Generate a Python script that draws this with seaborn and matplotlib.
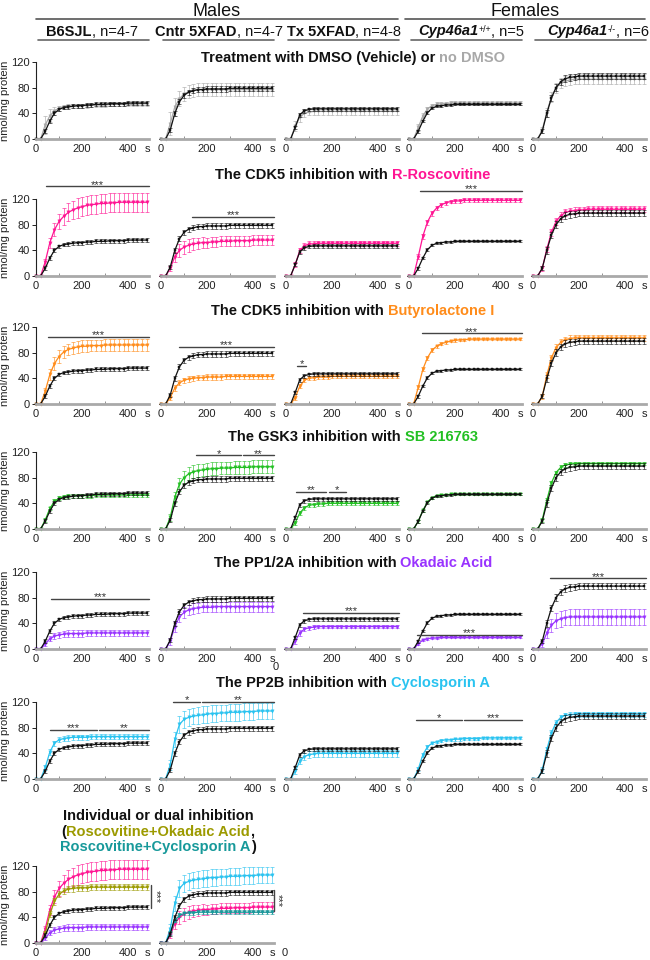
#! /usr/bin/env python3

import numpy as np
import seaborn as sns, matplotlib.pyplot as plt

sns.set_theme(style="white")
plt.rcParams["font.family"] = ["Liberation Sans", "DejaVu Sans"]

t = np.arange(0, 481, 20)  # s

# DMSO vehicle (black), one per column
b6_dmso     = [0,0,12,28,40,46,49,50,51,52,52,53,53,54,54,54,55,55,55,55,56,56,56,56,56]
b6_dmso_e   = [0,0,3,3,3,3,3,3,3,3,3,3,3,3,3,3,3,3,3,3,3,3,3,3,3]
cntr_dmso   = [0,0,14,40,58,68,73,75,77,77,78,78,78,78,78,79,79,79,79,79,79,79,79,79,79]
cntr_dmso_e = [0,0,3,4,4,4,4,4,4,4,4,4,4,4,4,4,4,4,4,4,4,4,4,4,4]
tx_dmso     = [0,0,18,38,44,46,47,47,47,47,47,47,47,47,47,47,47,47,47,47,47,47,47,47,47]
tx_dmso_e   = [0,0,3,3,3,3,3,3,3,3,3,3,3,3,3,3,3,3,3,3,3,3,3,3,3]
wt_dmso     = [0,0,12,28,41,48,51,52,53,53,54,54,54,54,54,54,54,54,54,54,54,54,54,54,54]
wt_dmso_e   = [0,0,2,2,2,2,1.5,1.5,1.5,1.5,1.5,1.5,1.5,1.5,1.5,1.5,1.5,1.5,1.5,1.5,1.5,1.5,1.5,1.5,1.5]
ko_dmso     = [0,0,12,40,64,80,89,94,96,97,98,98,98,98,98,98,98,98,98,98,98,98,98,98,98]
ko_dmso_e   = [0,0,3,5,5,5,5,5,5,5,5,5,5,5,5,5,5,5,5,5,5,5,5,5,5]

# no DMSO (grey)
b6_none     = [0,0,22,36,44,48,50,51,51,52,52,52,53,53,53,53,54,54,54,54,54,54,55,55,55]
b6_none_e   = [0,0,14,10,6,4,3,3,3,3,3,3,3,3,3,3,3,3,3,3,3,3,3,3,3]
cntr_none   = [0,0,24,50,63,70,74,76,77,77,77,77,77,77,77,77,77,77,77,77,77,77,77,77,77]
cntr_none_e = [0,0,18,14,12,11,10,10,10,10,10,10,10,10,10,10,10,10,10,10,10,10,10,10,10]
tx_none     = [0,0,20,34,40,42,43,43,43,43,43,43,43,43,43,43,43,43,43,43,43,43,43,43,43]
tx_none_e   = [0,0,8,7,6,5,5,5,5,5,5,5,5,5,5,5,5,5,5,5,5,5,5,5,5]
wt_none     = [0,0,18,36,47,52,54,55,55,56,56,56,56,56,56,56,56,56,56,56,56,56,56,56,56]
wt_none_e   = [0,0,5,4,3,3,3,3,3,3,3,3,3,3,3,3,3,3,3,3,3,3,3,3,3]
ko_none     = [0,0,14,42,66,80,87,90,92,93,93,93,93,93,93,93,93,93,93,93,93,93,93,93,93]
ko_none_e   = [0,0,5,7,8,8,8,8,8,8,8,8,8,8,8,8,8,8,8,8,8,8,8,8,8]

# R-Roscovitine
b6_rosc     = [0,0,22,52,72,85,93,99,103,106,108,110,111,112,113,113,114,114,115,115,115,115,115,115,115]
b6_rosc_e   = [0,0,5,8,10,12,13,14,14,15,15,15,15,15,15,15,15,15,15,15,15,15,15,15,15]
cntr_rosc   = [0,0,12,30,40,45,48,50,51,52,52,53,53,54,54,54,55,55,55,55,56,56,56,56,56]
cntr_rosc_e = [0,0,4,8,10,10,10,9,9,9,8,8,8,8,8,8,8,8,8,8,8,8,8,8,8]
tx_rosc     = [0,0,18,40,47,50,50,51,51,51,51,51,51,51,51,51,51,51,51,51,51,51,51,51,51]
tx_rosc_e   = [0,0,4,4,4,4,4,4,4,4,4,4,4,4,4,4,4,4,4,4,4,4,4,4,4]
wt_rosc     = [0,0,30,62,84,98,106,111,114,116,117,117,118,118,118,118,118,118,118,118,118,118,118,118,118]
wt_rosc_e   = [0,0,4,4,4,4,3,3,3,3,3,3,3,3,3,3,3,3,3,3,3,3,3,3,3]
ko_rosc     = [0,0,12,42,68,85,94,99,101,102,103,103,104,104,104,104,104,104,104,104,104,104,104,104,104]
ko_rosc_e   = [0,0,4,5,5,5,5,5,5,5,5,5,5,5,5,5,5,5,5,5,5,5,5,5,5]

# Butyrolactone I
b6_buty     = [0,0,20,46,63,74,81,85,87,89,90,90,91,91,91,92,92,92,92,92,92,92,92,92,92]
b6_buty_e   = [0,0,5,8,10,10,10,9,9,9,9,9,9,9,9,9,9,9,9,9,9,9,9,9,9]
cntr_buty   = [0,0,10,25,33,37,39,40,41,41,42,42,42,42,43,43,43,43,43,43,43,43,43,43,43]
cntr_buty_e = [0,0,3,4,4,4,4,4,4,4,4,4,4,4,4,4,4,4,4,4,4,4,4,4,4]
tx_buty     = [0,0,10,28,37,40,41,42,42,42,43,43,43,43,43,43,43,43,43,43,43,43,43,43,43]
tx_buty_e   = [0,0,3,3,3,3,3,3,3,3,3,3,3,3,3,3,3,3,3,3,3,3,3,3,3]
wt_buty     = [0,0,26,54,72,84,90,94,96,98,99,100,100,101,101,101,101,101,101,101,101,101,101,101,101]
wt_buty_e   = [0,0,3,3,3,3,2,2,2,2,2,2,2,2,2,2,2,2,2,2,2,2,2,2,2]
ko_buty     = [0,0,12,45,72,88,96,100,102,103,103,103,103,103,103,103,103,103,103,103,103,103,103,103,103]
ko_buty_e   = [0,0,4,5,5,5,5,5,5,5,5,5,5,5,5,5,5,5,5,5,5,5,5,5,5]

# SB 216763
b6_sb       = [0,0,14,32,43,48,50,51,51,52,52,52,52,53,53,53,53,53,53,53,53,53,53,53,53]
b6_sb_e     = [0,0,3,3,3,3,3,3,3,3,3,3,3,3,3,3,3,3,3,3,3,3,3,3,3]
cntr_sb     = [0,0,18,50,70,80,86,89,91,92,93,94,94,95,95,95,96,96,96,96,97,97,97,97,97]
cntr_sb_e   = [0,0,5,8,10,10,10,10,10,10,10,10,10,10,10,10,10,10,10,10,10,10,10,10,10]
tx_sb       = [0,0,10,25,33,37,38,39,39,40,40,40,40,40,40,40,40,40,40,40,40,40,40,40,40]
tx_sb_e     = [0,0,3,3,3,3,3,3,3,3,3,3,3,3,3,3,3,3,3,3,3,3,3,3,3]
wt_sb       = [0,0,12,29,42,49,52,53,53,54,54,54,54,54,54,54,54,54,54,54,54,54,54,54,54]
wt_sb_e     = [0,0,2,2,2,1.5,1.5,1.5,1.5,1.5,1.5,1.5,1.5,1.5,1.5,1.5,1.5,1.5,1.5,1.5,1.5,1.5,1.5,1.5,1.5]
ko_sb       = [0,0,14,45,72,88,96,100,101,102,102,102,102,102,102,102,102,102,102,102,102,102,102,102,102]
ko_sb_e     = [0,0,3,3,3,3,3,3,3,3,3,3,3,3,3,3,3,3,3,3,3,3,3,3,3]

# Okadaic Acid
b6_oa       = [0,0,8,16,20,22,23,24,24,24,24,25,25,25,25,25,25,25,25,25,25,25,25,25,25]
b6_oa_e     = [0,0,3,4,5,5,5,5,5,5,5,5,5,5,5,5,5,5,5,5,5,5,5,5,5]
cntr_oa     = [0,0,12,35,50,57,61,63,64,65,65,65,66,66,66,66,66,66,66,66,66,66,66,66,66]
cntr_oa_e   = [0,0,5,8,8,8,8,8,8,8,8,8,8,8,8,8,8,8,8,8,8,8,8,8,8]
tx_oa       = [0,0,12,25,31,33,34,35,35,35,35,35,35,35,35,35,35,35,35,35,35,35,35,35,35]
tx_oa_e     = [0,0,4,4,3,3,3,3,3,3,3,3,3,3,3,3,3,3,3,3,3,3,3,3,3]
wt_oa       = [0,0,8,14,16,17,17,18,18,18,18,18,18,18,18,18,18,18,18,18,18,18,18,18,18]
wt_oa_e     = [0,0,1.5,1.5,1.5,1.5,1.5,1.5,1.5,1.5,1.5,1.5,1.5,1.5,1.5,1.5,1.5,1.5,1.5,1.5,1.5,1.5,1.5,1.5,1.5]
ko_oa       = [0,0,8,25,37,44,47,49,50,50,50,50,50,50,50,50,50,50,50,50,50,50,50,50,50]
ko_oa_e     = [0,0,5,8,10,12,12,12,12,12,12,12,12,12,12,12,12,12,12,12,12,12,12,12,12]

# Cyclosporin A
b6_csa      = [0,0,18,42,56,61,63,64,65,65,65,65,66,66,66,66,66,66,66,66,66,66,66,66,66]
b6_csa_e    = [0,0,4,4,4,4,4,4,4,4,4,4,4,4,4,4,4,4,4,4,4,4,4,4,4]
cntr_csa    = [0,0,22,62,85,93,96,98,99,100,101,102,102,103,103,104,104,104,105,105,105,106,106,106,106]
cntr_csa_e  = [0,0,8,12,13,13,13,13,13,13,13,13,13,13,13,13,13,13,13,13,13,13,13,13,13]
tx_csa      = [0,0,12,28,35,38,39,40,40,40,40,40,40,40,40,40,40,40,40,40,40,40,40,40,40]
tx_csa_e    = [0,0,4,5,5,5,5,5,5,5,5,5,5,5,5,5,5,5,5,5,5,5,5,5,5]
wt_csa      = [0,0,15,38,50,56,58,60,61,61,62,62,63,63,63,63,64,64,64,64,64,64,64,64,64]
wt_csa_e    = [0,0,3,3,3,2,2,2,2,2,2,2,2,2,2,2,2,2,2,2,2,2,2,2,2]
ko_csa      = [0,0,14,46,72,88,96,99,100,101,101,101,101,101,101,101,101,101,101,101,101,101,101,101,101]
ko_csa_e    = [0,0,4,4,4,4,4,4,4,4,4,4,4,4,4,4,4,4,4,4,4,4,4,4,4]

# dual inhibition
b6_rosc_oa      = [0,0,15,45,65,76,81,84,85,86,86,86,87,87,87,87,87,87,87,87,87,87,87,87,87]
b6_rosc_oa_e    = [0,0,4,5,5,5,5,5,5,5,5,5,5,5,5,5,5,5,5,5,5,5,5,5,5]
cntr_rosc_csa   = [0,0,15,35,43,46,47,47,48,48,48,48,48,48,48,48,48,48,48,48,48,48,48,48,48]
cntr_rosc_csa_e = [0,0,3,3,3,3,3,3,3,3,3,3,3,3,3,3,3,3,3,3,3,3,3,3,3]

# significance bars: row, column, from s, to s, level, stars
sig_bars = [
    (1, 0, 45, 490, 140, "***"), (1, 1, 135, 490, 92, "***"), (1, 3, 48, 490, 133, "***"),
    (2, 0, 52, 490, 105, "***"), (2, 1, 78, 490, 89, "***"), (2, 2, 48, 87, 60, "*"),
    (2, 3, 55, 490, 110, "***"),
    (3, 1, 152, 348, 115, "*"), (3, 1, 354, 490, 115, "**"),
    (3, 2, 45, 175, 58, "**"), (3, 2, 185, 260, 58, "*"),
    (4, 0, 64, 490, 78, "***"), (4, 2, 74, 490, 56, "***"), (4, 3, 35, 490, 22, "***"),
    (4, 4, 75, 490, 110, "***"),
    (5, 0, 61, 265, 77, "***"), (5, 0, 274, 490, 77, "**"),
    (5, 1, 52, 170, 120, "*"), (5, 1, 179, 490, 120, "**"),
    (5, 3, 30, 230, 92, "*"), (5, 3, 240, 490, 92, "***"),
]

BLACK, GREY = "#111111", "#a8a8a8"
PINK, ORANGE, GREEN = "#ff1493", "#ff8c1a", "#22c022"
PURPLE, CYAN = "#9933ff", "#29c3f0"
OLIVE, TEAL = "#9c9a00", "#17999a"

vehicle = [(b6_dmso, b6_dmso_e), (cntr_dmso, cntr_dmso_e), (tx_dmso, tx_dmso_e),
           (wt_dmso, wt_dmso_e), (ko_dmso, ko_dmso_e)]
treated = [
    (GREY, [(b6_none, b6_none_e), (cntr_none, cntr_none_e), (tx_none, tx_none_e),
            (wt_none, wt_none_e), (ko_none, ko_none_e)]),
    (PINK, [(b6_rosc, b6_rosc_e), (cntr_rosc, cntr_rosc_e), (tx_rosc, tx_rosc_e),
            (wt_rosc, wt_rosc_e), (ko_rosc, ko_rosc_e)]),
    (ORANGE, [(b6_buty, b6_buty_e), (cntr_buty, cntr_buty_e), (tx_buty, tx_buty_e),
              (wt_buty, wt_buty_e), (ko_buty, ko_buty_e)]),
    (GREEN, [(b6_sb, b6_sb_e), (cntr_sb, cntr_sb_e), (tx_sb, tx_sb_e),
             (wt_sb, wt_sb_e), (ko_sb, ko_sb_e)]),
    (PURPLE, [(b6_oa, b6_oa_e), (cntr_oa, cntr_oa_e), (tx_oa, tx_oa_e),
              (wt_oa, wt_oa_e), (ko_oa, ko_oa_e)]),
    (CYAN, [(b6_csa, b6_csa_e), (cntr_csa, cntr_csa_e), (tx_csa, tx_csa_e),
            (wt_csa, wt_csa_e), (ko_csa, ko_csa_e)]),
]

W, H = 650, 960
col_x0 = [36, 161, 286, 409, 533]
row_y0 = [139, 276, 404, 529, 649, 779, 943]
AX_W, AX_H = 113, 77

fig = plt.figure(figsize=(W / 100, H / 100), dpi=100)


def curve(ax, y, e, color, marker):
    ax.errorbar(t, y, yerr=e, fmt="none", ecolor=color, elinewidth=0.6,
                capsize=1.7, capthick=0.6, alpha=0.7)
    ms = 1.9 if marker == "s" else 2.4
    sns.lineplot(x=t, y=y, ax=ax, color=color, lw=0.9, marker=marker, ms=ms,
                 mec=color, mew=0.3, legend=False)


def panel(r, c, series, xlabels=("0", "200", "400", "s")):
    ax = fig.add_axes([col_x0[c] / W, 1 - row_y0[r] / H, AX_W / W, AX_H / H])
    for y, e, color, marker in series:
        curve(ax, y, e, color, marker)
    for a in list(ax.lines) + list(ax.collections):
        a.set_clip_on(False)
    ax.set_facecolor("none")
    ax.set_xlim(0, 490)
    ax.set_ylim(0, 120)
    sns.despine(ax=ax, left=(c != 0))
    ax.spines["bottom"].set_color("#a9a9a9")
    ax.spines["bottom"].set_linewidth(2)
    ax.set_xticks([0, 200, 400, 483], list(xlabels))
    ax.set_xticks([100, 200, 300, 400], minor=True)
    ax.tick_params(axis="x", which="major", length=0, pad=3.5, labelsize=8, labelcolor="#222")
    ax.tick_params(axis="x", which="minor", bottom=True, direction="in", length=2.5,
                   width=0.6, color="#808080")
    ax.set_xlabel("")
    if c == 0:
        ax.spines["left"].set_color("#222")
        ax.spines["left"].set_linewidth(0.8)
        ax.set_yticks([0, 40, 80, 120])
        ax.tick_params(axis="y", left=True, length=3, width=0.7, pad=1.5,
                       labelsize=8, color="#222", labelcolor="#222")
        ax.set_ylabel("nmol/mg protein", fontsize=8, labelpad=0.5, color="#222")
    else:
        ax.set_yticks([])
        ax.set_ylabel("")
    ax.grid(False)
    return ax


axes = {}
for r, (color, cols) in enumerate(treated):
    for c in range(5):
        labels = ("", "200", "400", "s") if (r == 4 and c == 2) else ("0", "200", "400", "s")
        y, e = cols[c]
        vy, ve = vehicle[c]
        axes[r, c] = panel(r, c, [(y, e, color, "v"), (vy, ve, BLACK, "s")], labels)

axes[6, 0] = panel(6, 0, [(b6_rosc, b6_rosc_e, PINK, "v"), (b6_rosc_oa, b6_rosc_oa_e, OLIVE, "v"),
                          (b6_oa, b6_oa_e, PURPLE, "v"), (b6_dmso, b6_dmso_e, BLACK, "s")])
axes[6, 1] = panel(6, 1, [(cntr_csa, cntr_csa_e, CYAN, "v"), (cntr_rosc, cntr_rosc_e, PINK, "v"),
                          (cntr_rosc_csa, cntr_rosc_csa_e, TEAL, "v"),
                          (cntr_dmso, cntr_dmso_e, BLACK, "s")])

for r, c, t0, t1, lvl, stars in sig_bars:
    ax = axes[r, c]
    ax.plot([t0, t1], [lvl, lvl], color="#444", lw=1, clip_on=False)
    ax.annotate(stars, ((t0 + t1) / 2, lvl), xytext=(0, -2.5), textcoords="offset points",
                ha="center", va="bottom", fontsize=8, color="#333", annotation_clip=False)

for c, (x, y0, y1, sx) in enumerate([(500, 55, 90, 517), (491, 50, 83, 508)]):
    ax = axes[6, c]
    ax.plot([x, x], [y0, y1], color="#444", lw=1, clip_on=False)
    ax.text(sx, (y0 + y1) / 2, "***", rotation=270, ha="center", va="center",
            fontsize=8, color="#333", clip_on=False)

# stray tick labels of hidden panels
fig.text(276 / W, 1 - 667 / H, "0", ha="center", va="center", fontsize=8, color="#222")
fig.text(285 / W, 1 - 953 / H, "0", ha="center", va="center", fontsize=8, color="#222")


def rich(x, base, parts, size):
    rend = fig.canvas.get_renderer()
    arts, gaps = [], []
    for text, kw in parts:
        kw = dict(kw)
        gaps.append(kw.pop("gap", 0))
        fs = size * kw.pop("scale", 1)
        dy = kw.pop("dy", 0)
        arts.append(fig.text(0, 1 - (base - dy) / H, text, fontsize=fs, va="baseline",
                             ha="left", **kw))
    widths = [a.get_window_extent(rend).width for a in arts]
    cur = x - (sum(widths) + sum(gaps)) / 2
    for a, w, g in zip(arts, widths, gaps):
        cur += g
        a.set_x(cur / W)
        cur += w


B = {"weight": "bold", "color": BLACK}
N = {"color": BLACK}

# sex headers
for label, xa, xb in [("Males", 36, 398), ("Females", 405, 645)]:
    fig.text((xa + xb) / 2 / W, 1 - 15.5 / H, label, ha="center", va="baseline",
             fontsize=13, color=BLACK)
    fig.add_artist(plt.Line2D([xa / W, xb / W], [1 - 18.5 / H] * 2, color="#555", lw=1.2))

headers = [
    [("B6SJL", B), (", n=4-7", N)],
    [("Cntr 5XFAD", B), (", n=4-7", N)],
    [("Tx 5XFAD", B), (", n=4-8", N)],
    [("Cyp46a1", {**B, "style": "italic"}), ("+/+", {**N, "scale": 0.6, "dy": 4}), (", n=5", N)],
    [("Cyp46a1", {**B, "style": "italic"}), ("-/-", {**N, "scale": 0.6, "dy": 4}), (", n=6", N)],
]
head_x = [92, 219, 344, 471, 598]
for c in range(5):
    rich(head_x[c], 35.5, headers[c], 10.5)
    x0 = col_x0[c]
    fig.add_artist(plt.Line2D([(x0 + 2) / W, (x0 + 113) / W], [1 - 39.5 / H] * 2,
                              color="#666", lw=1.2))

titles = [
    ("Treatment with DMSO (Vehicle) or", "no DMSO", GREY),
    ("The CDK5 inhibition with", "R-Roscovitine", PINK),
    ("The CDK5 inhibition with", "Butyrolactone I", ORANGE),
    ("The GSK3 inhibition with", "SB 216763", GREEN),
    ("The PP1/2A inhibition with", "Okadaic Acid", PURPLE),
    ("The PP2B inhibition with", "Cyclosporin A", CYAN),
]
title_base = [62, 179, 315, 441, 567, 687]
for (a, b, col), yb in zip(titles, title_base):
    rich(353, yb, [(a, B), (b, {"weight": "bold", "color": col, "gap": 4})], 10.5)

rich(158, 820, [("Individual or dual inhibition", B)], 10.5)
rich(158, 836, [("(", B), ("Roscovitine+Okadaic Acid", {"weight": "bold", "color": OLIVE}),
                (",", B)], 10.5)
rich(158, 851, [("Roscovitine+Cyclosporin A", {"weight": "bold", "color": TEAL}), (")", B)], 10.5)

fig.savefig("out.png", dpi=100)
